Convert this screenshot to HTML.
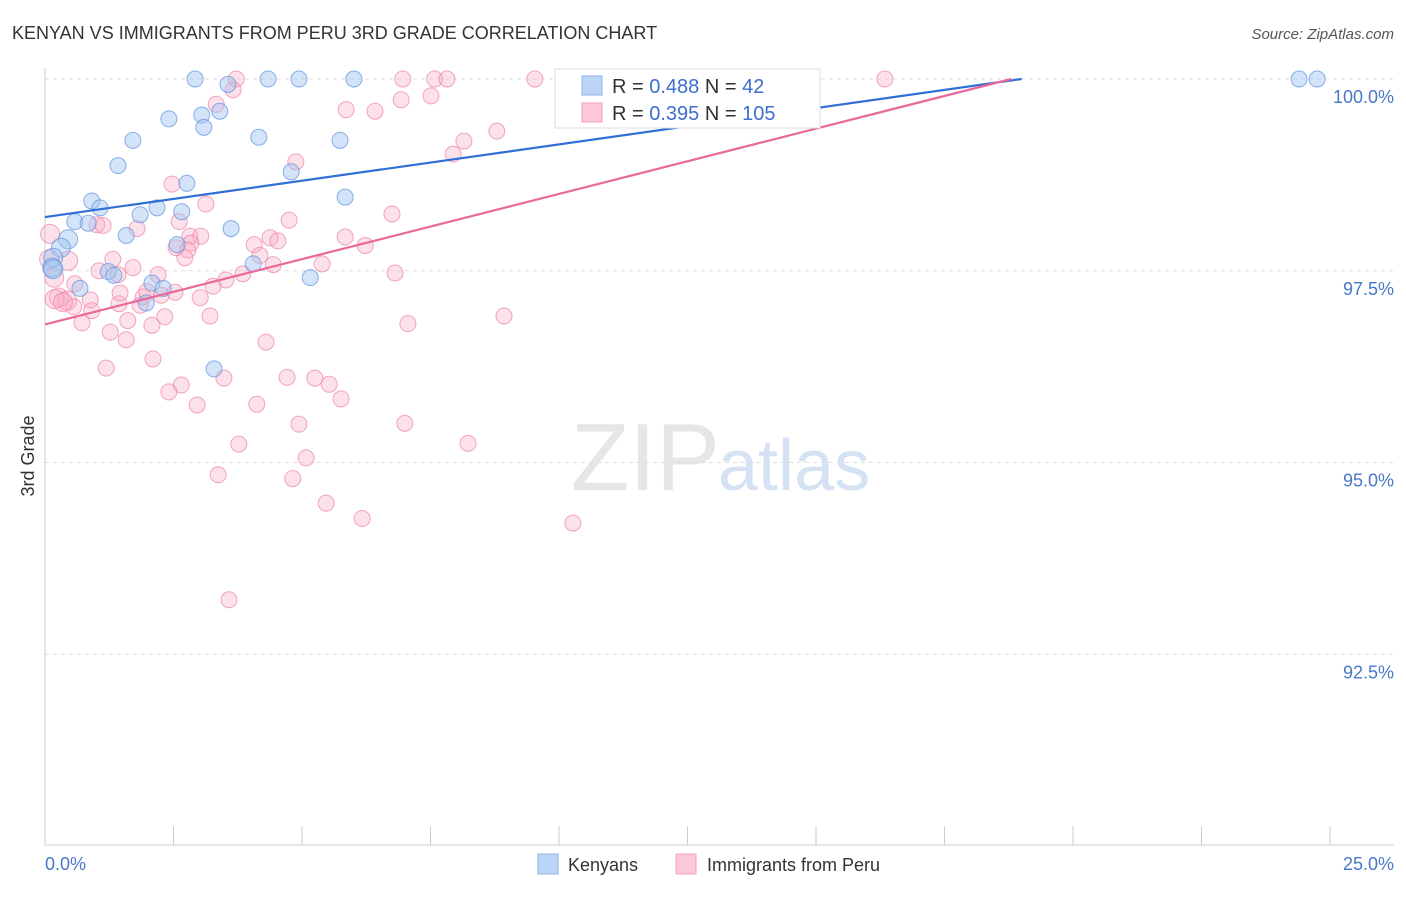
<!DOCTYPE html>
<html><head><meta charset="utf-8"><style>
body{margin:0;background:#fff;font-family:"Liberation Sans",sans-serif;}
svg text{font-family:"Liberation Sans",sans-serif;}
</style></head><body>
<svg id="chart" width="1406" height="892" viewBox="0 0 1406 892" xmlns="http://www.w3.org/2000/svg">
<text x="12" y="39" font-size="18" fill="#333">KENYAN VS IMMIGRANTS FROM PERU 3RD GRADE CORRELATION CHART</text>
<text x="1394" y="39" font-size="15" fill="#555" text-anchor="end" font-style="italic">Source: ZipAtlas.com</text>
<text x="720" y="490" font-size="96" fill="#e6e6e6" text-anchor="end" font-family="Liberation Serif">ZIP</text>
<text x="718" y="490" font-size="72" fill="#d4e2f4">atlas</text>
<g id="grid"></g>
<g id="pts"></g>
<g id="lines"></g>
<text transform="translate(34,456) rotate(-90)" font-size="18" fill="#333" text-anchor="middle">3rd Grade</text>
<text x="45" y="870" font-size="18" fill="#4a78c8">0.0%</text>
<text x="1394" y="870" font-size="18" fill="#4a78c8" text-anchor="end">25.0%</text>
<g>
<rect x="555" y="69" width="265" height="59" fill="#fff" stroke="#ddd"/>
<rect x="582" y="76" width="20" height="19" fill="#bcd4f5" stroke="#8fb2e8"/>
<rect x="582" y="103" width="20" height="19" fill="#fcc8d8" stroke="#f0a0bc"/>
<text x="612" y="93" font-size="20" fill="#333">R = <tspan fill="#3b6fd0">0.488</tspan>   N =   <tspan fill="#3b6fd0">42</tspan></text>
<text x="612" y="120" font-size="20" fill="#333">R = <tspan fill="#3b6fd0">0.395</tspan>   N = <tspan fill="#3b6fd0">105</tspan></text>
</g>
<g>
<rect x="538" y="854" width="20" height="20" fill="#bcd4f5" stroke="#8fb2e8"/>
<text x="568" y="871" font-size="18" fill="#333">Kenyans</text>
<rect x="676" y="854" width="20" height="20" fill="#fcc8d8" stroke="#f0a0bc"/>
<text x="707" y="871" font-size="18" fill="#333">Immigrants from Peru</text>
</g>
</svg>
<script>
const yTicks=[100,97.5,95,92.5];
const yTickLabels=["100.0%","97.5%","95.0%","92.5%"];
const xTicks=[0,2.5,5,7.5,10,12.5,15,17.5,20,22.5,25];
const blueX=[2.92,4.34,4.94,6.01,3.56,24.4,24.75,2.41,3.05,3.4,3.09,1.71,4.16,5.74,1.42,4.79,2.76,0.91,1.07,2.18,1.85,2.66,0.58,0.84,5.84,3.62,1.58,0.45,0.31,0.16,0.14,1.23,1.34,2.08,2.3,0.68,4.05,5.16,1.97,3.29,2.57,0.16];
const blueY=[100,100,100,100,99.93,100,100,99.48,99.53,99.58,99.37,99.2,99.24,99.2,98.87,98.79,98.64,98.41,98.32,98.32,98.23,98.27,98.14,98.12,98.46,98.05,97.96,97.91,97.8,97.67,97.54,97.49,97.44,97.34,97.27,97.27,97.59,97.41,97.08,96.22,97.84,97.52];
const pinkX=[3.72,6.96,7.58,7.82,9.53,12.29,13.27,14.63,16.34,3.66,7.51,6.93,5.86,6.42,3.33,8.79,8.15,7.94,4.88,2.47,3.13,6.75,4.75,2.61,1.01,1.13,1.79,2.82,3.03,4.38,4.53,5.84,2.84,4.07,2.55,6.23,2.78,4.18,2.72,1.32,0.45,4.44,5.39,1.71,1.05,6.81,3.85,1.42,2.2,0.18,3.52,3.27,0.58,2.53,2.26,0.27,1.91,3.02,0.88,0.43,1.44,0.56,1.85,0.91,2.33,1.61,0.72,3.21,2.08,8.93,7.06,1.27,1.58,4.3,2.1,1.19,3.48,4.71,2.65,5.25,5.53,2.41,5.76,2.96,4.12,4.94,7.0,3.77,8.23,5.08,3.37,4.82,5.47,6.17,10.27,3.58,0.1,0.08,0.19,0.35,1.46,1.98];
const pinkY=[100,100,100,100,100,100,100,100,100,99.86,99.78,99.73,99.6,99.58,99.67,99.32,99.19,99.02,98.92,98.63,98.37,98.24,98.16,98.14,98.1,98.09,98.05,97.95,97.95,97.93,97.89,97.94,97.86,97.84,97.8,97.83,97.77,97.7,97.67,97.65,97.63,97.58,97.59,97.54,97.5,97.47,97.46,97.45,97.45,97.41,97.38,97.3,97.33,97.22,97.18,97.15,97.16,97.15,97.12,97.11,97.07,97.03,97.05,96.98,96.9,96.85,96.82,96.91,96.79,96.91,96.81,96.70,96.6,96.57,96.35,96.23,96.1,96.11,96.01,96.1,96.02,95.92,95.83,95.75,95.76,95.5,95.51,95.24,95.25,95.06,94.84,94.79,94.47,94.27,94.21,93.21,97.98,97.65,97.13,97.09,97.21,97.23];
const blueLine=[[0,98.2],[19,100]];
const pinkLine=[[0,96.8],[18.8,100]];
const NS="http://www.w3.org/2000/svg";
function sx(v){return 45+v/25*1285;}
function sy(v){return 79+(100-v)*76.7;}
function mk(t,a){const e=document.createElementNS(NS,t);for(const k in a)e.setAttribute(k,a[k]);return e;}
const grid=document.getElementById('grid');
yTicks.forEach((t,i)=>{
 const l=mk('line',{x1:45,x2:1394,y1:sy(t),y2:sy(t),stroke:'#ddd','stroke-dasharray':'4,4'});
 
 
 grid.appendChild(l);
 const tx=mk('text',{x:1394,y:sy(t)+24,'font-size':18,fill:'#4a78c8','text-anchor':'end'});
 tx.textContent=yTickLabels[i];
 
 
 grid.appendChild(tx);
});
const ax=mk('line',{x1:45,x2:1394,y1:845,y2:845,stroke:'#ccc'});


grid.appendChild(ax);
const ay=mk('line',{x1:45,x2:45,y1:68,y2:845,stroke:'#ccc'});


grid.appendChild(ay);
xTicks.forEach(t=>{
 const l=mk('line',{x1:sx(t),x2:sx(t),y1:826,y2:845,stroke:'#ccc'});
 
 
 grid.appendChild(l);
});
const pts=document.getElementById('pts');
pinkX.forEach((x,i)=>{
 const c=mk('circle',{cx:sx(x),cy:sy(pinkY[i]),r:x<0.5?9.5:8,fill:'rgba(248,170,195,0.35)',stroke:'rgba(236,130,165,0.7)','stroke-width':1});
 
 
 pts.appendChild(c);
});
blueX.forEach((x,i)=>{
 const c=mk('circle',{cx:sx(x),cy:sy(blueY[i]),r:x<0.5?9.5:8,fill:'rgba(160,195,240,0.45)',stroke:'rgba(100,150,225,0.75)','stroke-width':1});
 
 
 pts.appendChild(c);
});
const lines=document.getElementById('lines');
const bl=mk('line',{x1:sx(blueLine[0][0]),y1:sy(blueLine[0][1]),x2:sx(blueLine[1][0]),y2:sy(blueLine[1][1]),stroke:'#2f6fd6','stroke-width':2.2});


lines.appendChild(bl);
const pl=mk('line',{x1:sx(pinkLine[0][0]),y1:sy(pinkLine[0][1]),x2:sx(pinkLine[1][0]),y2:sy(pinkLine[1][1]),stroke:'#e8699a','stroke-width':2.2});


lines.appendChild(pl);
</script>
</body></html>
